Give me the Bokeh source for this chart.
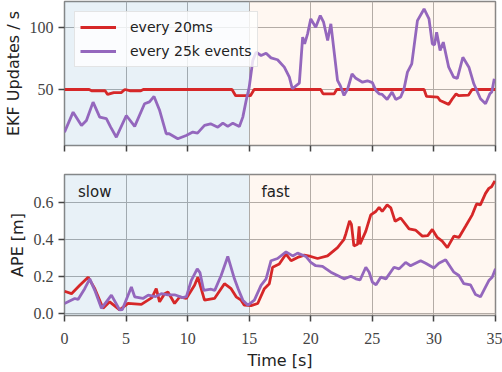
from bokeh.plotting import figure
from bokeh.models import Range1d, FixedTicker, BoxAnnotation, Label, Legend, LegendItem, PrintfTickFormatter
from bokeh.layouts import column
from bokeh.embed import file_html
from bokeh.resources import INLINE

# ---- data: EKF update rate (top) ----
rate_20ms_t = [0, 2.0, 2.2, 3.3, 3.5, 4.0, 4.6, 4.9, 5.3, 6.2, 6.4, 13.6, 13.9, 15.1, 15.4,
               20.8, 21.0, 21.9, 22.1, 29.2, 29.4, 30.3, 30.5, 31.2, 31.5, 31.8, 32.0, 32.8, 33.1, 35]
rate_20ms_v = [50, 50, 49, 49, 46, 47.5, 47.5, 50, 49, 49, 50, 50, 45, 45, 50,
               50, 46.5, 46.5, 50, 50, 44.4, 43.9, 41.1, 38, 42.5, 46.5, 45, 45.4, 50, 50]

rate_25k_t = [0, 0.7, 1.38, 1.78, 2.32, 2.86, 3.4, 3.75, 4.21, 5.02, 5.7, 6.5, 6.9, 7.27, 7.73,
              8.26, 8.5, 9.2, 9.88, 10.42, 10.8, 11.37, 11.86, 12.45, 12.86, 13.26, 13.67, 14.2,
              14.48, 14.75, 15.0, 15.29, 15.56, 15.96, 16.37, 16.77, 17.3, 17.85, 18.26, 18.5,
              19.07, 19.34, 19.5, 19.74, 20.0, 20.4, 20.77, 21.04, 21.37, 21.63, 22.17, 22.4,
              22.7, 23.0, 23.35, 23.66, 24.2, 24.6, 25.0, 25.3, 25.55, 25.8, 26.2, 26.6, 26.9,
              27.3, 27.57, 27.85, 28.2, 28.66, 29.2, 29.6, 29.87, 30.05, 30.22, 30.5, 30.76,
              31.2, 31.6, 31.9, 32.35, 32.84, 33.24, 33.78, 34.19, 34.54, 34.7, 34.9]
rate_25k_v = [15.6, 31.7, 21, 25, 39.8, 27.7, 26.4, 19.6, 11.5, 29, 20.2, 38.5, 40, 44.4, 33,
              14.3, 14.3, 10.2, 12.9, 15.6, 14.8, 21, 22.3, 19.6, 22.8, 20.2, 22.8, 20.2,
              27.7, 41, 51.9, 73.4, 80.1, 77.4, 79.3, 75.5, 74, 68, 60, 50.6,
              55.1, 92.2, 86.8, 94.9, 107, 100.2, 109.7, 104.3, 89.5, 103, 57.3, 53,
              45.2, 50.6, 62.6, 59, 55.9, 57, 55.5, 49, 46.5, 46, 42, 47.9, 42,
              44, 50.5, 64, 70.7, 105.6, 115, 107, 86.8, 86, 96.2, 81.5, 88.2,
              68, 60, 59, 76, 68, 54.6, 42.5, 38.5, 46.5, 48, 58.6]

# ---- data: APE (bottom) ----
ape_20ms_t = [0, 0.57, 1.24, 1.92, 2.46, 3.13, 3.67, 4.48, 5.16, 6.24, 6.78, 7.1, 7.45, 7.72,
              8.13, 8.4, 8.94, 9.35, 9.89, 10.56, 10.83, 11.37, 12.18, 12.99, 13.53, 13.94,
              14.34, 14.6, 15.15, 15.69, 16.23, 16.63, 16.9, 17.44, 17.99, 18.4, 18.93, 19.47,
              20.0, 20.55, 21.36, 22.17, 22.7, 22.85, 23.15, 23.3, 23.5, 23.8, 23.93, 24.0,
              24.47, 24.87, 25.28, 25.55, 25.8, 26.2, 26.5, 26.85, 27.3, 27.98, 28.5, 29.06,
              29.5, 29.87, 30.27, 30.67, 31.09, 31.62, 32.03, 32.57, 33.11, 33.46, 33.77,
              34.19, 34.46, 34.68, 34.95]
ape_20ms_v = [0.119, 0.106, 0.151, 0.195, 0.133, 0.027, 0.062, 0.018, 0.053, 0.048, 0.071, 0.085,
              0.133, 0.062, 0.106, 0.115, 0.053, 0.088, 0.08, 0.151, 0.195, 0.071, 0.08, 0.16,
              0.133, 0.089, 0.071, 0.044, 0.041, 0.053, 0.133, 0.16, 0.249, 0.266, 0.32, 0.284,
              0.302, 0.314, 0.307, 0.296, 0.31, 0.355, 0.40, 0.43, 0.50, 0.48, 0.364, 0.373,
              0.47, 0.373, 0.444, 0.532, 0.55, 0.573, 0.55, 0.586, 0.57, 0.497, 0.515, 0.456,
              0.45, 0.417, 0.42, 0.453, 0.41, 0.39, 0.355, 0.417, 0.41, 0.47, 0.532, 0.591,
              0.586, 0.648, 0.675, 0.684, 0.715]

ape_25k_t = [0, 0.83, 1.1, 1.64, 2.05, 2.46, 3.0, 3.81, 4.48, 4.7, 5.43, 5.7, 6.37, 6.8, 7.4,
             7.86, 8.4, 8.94, 9.6, 9.9, 10.29, 10.78, 11.0, 11.3, 11.9, 12.2, 12.72, 13.26,
             13.8, 14.1, 14.48, 14.9, 15.42, 15.96, 16.37, 16.77, 17.3, 17.99, 18.53, 18.93,
             19.6, 20.0, 20.4, 20.95, 21.63, 22.17, 22.7, 23.25, 23.66, 24.0, 24.47, 24.74,
             25.0, 25.3, 25.68, 26.1, 26.76, 27.17, 27.7, 28.1, 28.92, 29.33, 30.0, 30.4,
             30.95, 31.62, 32.03, 32.43, 32.97, 33.38, 33.78, 34.05, 34.46, 34.73, 35.0]
ape_25k_v = [0.053, 0.08, 0.075, 0.133, 0.186, 0.124, 0.027, 0.098, 0.018, 0.02, 0.142, 0.089,
             0.08, 0.098, 0.09, 0.106, 0.1, 0.1, 0.085, 0.09, 0.177, 0.24, 0.22, 0.124, 0.13,
             0.124, 0.204, 0.307, 0.186, 0.133, 0.071, 0.044, 0.071, 0.151, 0.186, 0.284,
             0.296, 0.332, 0.31, 0.325, 0.307, 0.275, 0.257, 0.254, 0.222, 0.204, 0.186, 0.2,
             0.186, 0.18, 0.249, 0.222, 0.169, 0.154, 0.195, 0.186, 0.249, 0.24, 0.275, 0.257,
             0.284, 0.27, 0.245, 0.27, 0.289, 0.222, 0.204, 0.16, 0.154, 0.101, 0.089, 0.124,
             0.177, 0.195, 0.24]

x_ticks = [0, 5, 10, 15, 20, 25, 30, 35]
rate_ticks = [50, 100]
ape_ticks = [0.0, 0.2, 0.4, 0.6]
series_names = ["every 20ms", "every 25k events"]
phase_names = ["slow", "fast"]

RED = "#d62728"
PURPLE = "#9467bd"
SERIF = "'Liberation Serif', serif"
SANS = "'DejaVu Sans', sans-serif"
LW = 2.8


def style(p):
    p.xaxis.ticker = FixedTicker(ticks=x_ticks)
    p.axis.major_tick_in = 0
    p.axis.major_tick_out = 6
    p.axis.major_tick_line_color = "#444444"
    p.axis.major_tick_line_width = 1.5
    p.axis.minor_tick_line_color = None
    p.axis.axis_line_color = None
    p.axis.major_label_text_font = SERIF
    p.axis.major_label_text_font_size = "16px"
    p.axis.major_label_text_color = "#444444"
    p.yaxis.major_label_standoff = 5
    p.yaxis.axis_label_standoff = 4
    p.xaxis.major_label_standoff = 11
    p.axis.axis_label_text_font = SANS
    p.axis.axis_label_text_font_size = "16px"
    p.axis.axis_label_text_font_style = "normal"
    p.axis.axis_label_text_color = "#222222"
    p.outline_line_color = "#888888"
    p.outline_line_width = 1.5
    p.grid.grid_line_color = "#b0b0b0"
    p.grid.grid_line_width = 1
    p.add_layout(BoxAnnotation(left=0, right=15, fill_color="#1f77b4", fill_alpha=0.1,
                               line_color=None, level="underlay"))
    p.add_layout(BoxAnnotation(left=15, right=35, fill_color="#ff7f0e", fill_alpha=0.06,
                               line_color=None, level="underlay"))


top = figure(width=502, height=159, output_backend="svg", toolbar_location=None,
             x_range=Range1d(0, 35), y_range=Range1d(4.8, 121),
             min_border_left=63, min_border_right=7, min_border_top=1, min_border_bottom=14)
style(top)
top.yaxis.ticker = FixedTicker(ticks=rate_ticks)
top.yaxis.axis_label = "EKF Updates / s"
top.xaxis.major_label_overrides = {t: "" for t in x_ticks}
top.xaxis.major_label_standoff = 0

r1 = top.line(rate_20ms_t, rate_20ms_v, line_color=RED, line_width=LW)
r2 = top.line(rate_25k_t, rate_25k_v, line_color=PURPLE, line_width=LW)
legend = Legend(items=[LegendItem(label=series_names[0], renderers=[r1]),
                       LegendItem(label=series_names[1], renderers=[r2])],
                location="top_left", margin=10, padding=5, spacing=4,
                glyph_width=36, glyph_height=20, label_height=20, label_standoff=14,
                label_text_font=SANS, label_text_font_size="14px", label_text_color="#222222",
                border_line_color="#cccccc", border_line_width=1,
                background_fill_color="white", background_fill_alpha=0.8)
top.add_layout(legend)

bot = figure(width=502, height=213, output_backend="svg", toolbar_location=None,
             x_range=Range1d(0, 35), y_range=Range1d(-0.012, 0.75),
             min_border_left=63, min_border_right=7, min_border_top=15, min_border_bottom=55)
style(bot)
bot.yaxis.ticker = FixedTicker(ticks=ape_ticks)
bot.yaxis.formatter = PrintfTickFormatter(format="%.1f")
bot.yaxis.axis_label = "APE [m]"
bot.xaxis.axis_label = "Time [s]"
bot.xaxis.axis_label_standoff = 4
bot.line(ape_20ms_t, ape_20ms_v, line_color=RED, line_width=LW)
bot.line(ape_25k_t, ape_25k_v, line_color=PURPLE, line_width=LW)
bot.add_layout(Label(x=1.1, y=0.655, text=phase_names[0], text_baseline="middle",
                     text_font=SANS, text_font_size="15px", text_color="#222222"))
bot.add_layout(Label(x=16.0, y=0.655, text=phase_names[1], text_baseline="middle",
                     text_font=SANS, text_font_size="15px", text_color="#222222"))

p = column(top, bot, spacing=0)

open("out.html", "w").write(file_html(p, INLINE))
